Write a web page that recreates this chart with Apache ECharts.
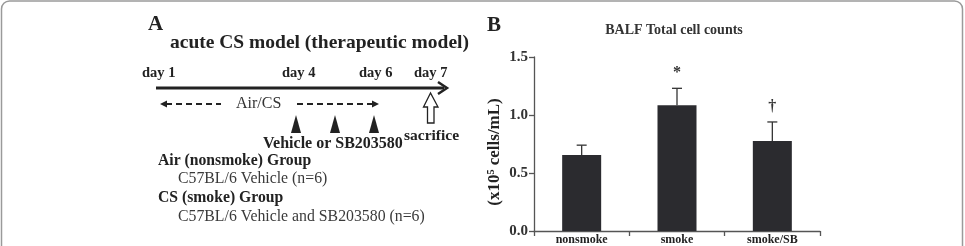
<!DOCTYPE html>
<html>
<head>
<meta charset="utf-8">
<script src="https://cdn.jsdelivr.net/npm/echarts@6/dist/echarts.min.js"></script>
<style>html,body{margin:0;padding:0;background:#fff;}#c{width:965px;height:246px;}</style>
</head>
<body>
<div id="c"></div>
<script>
var categories = ['nonsmoke', 'smoke', 'smoke/SB'];
var means = [0.655, 1.085, 0.775];
var errors = [0.085, 0.145, 0.165];
var annotations = ['', '*', '\u2020'];
var yTicks = [0, 0.5, 1.0, 1.5];
var yAxisTitle = '(x10\u2075 cells/mL)';

var SERIF = '"Liberation Serif","Times New Roman",serif';
var ink = '#222';

var chart = echarts.init(document.getElementById('c'), null, {renderer: 'canvas'});

function txt(x, y, s, size, bold, opts) {
  opts = opts || {};
  var o = {
    type: 'text', x: x, y: y, silent: true,
    style: {
      text: s, fill: opts.fill || ink,
      font: (bold ? 'bold ' : '') + size + 'px ' + SERIF,
      textAlign: opts.align || 'left', textVerticalAlign: 'middle'
    }
  };
  if (opts.rotation) o.rotation = opts.rotation;
  return o;
}
function line(x1, y1, x2, y2, w, dash) {
  return {type: 'line', silent: true, shape: {x1: x1, y1: y1, x2: x2, y2: y2},
    style: {stroke: ink, lineWidth: w, lineDash: dash || null}};
}
function poly(pts, fill, stroke) {
  return {type: 'polygon', silent: true, shape: {points: pts},
    style: {fill: fill, stroke: stroke || null, lineWidth: stroke ? 1.3 : 0}};
}

var graphics = [
  {type: 'rect', silent: true, shape: {x: 1.5, y: 1, width: 961, height: 300, r: 8},
   style: {fill: 'none', stroke: '#9a9a9a', lineWidth: 1.5}},
  txt(148, 25, 'A', 21, true),
  txt(170, 43, 'acute CS model (therapeutic model)', 19.5, true),
  txt(142, 73, 'day 1', 14.5, true),
  txt(282, 73, 'day 4', 14.5, true),
  txt(359, 73, 'day 6', 14.5, true),
  txt(414, 73, 'day 7', 14.5, true),
  line(156, 88, 444, 88, 3),
  {type: 'polyline', silent: true, shape: {points: [[438, 82], [447, 88], [438, 94]]},
   style: {stroke: ink, lineWidth: 2.5, fill: null}},
  // left dashed arrow
  line(166, 104, 221, 104, 2, [6, 4]),
  poly([[160, 104], [167, 100.5], [167, 107.5]], ink),
  txt(236, 104, 'Air/CS', 16, false, {fill: '#333'}),
  // right dashed arrow
  line(297, 104, 373, 104, 2, [6, 4]),
  poly([[379, 104], [372, 100.5], [372, 107.5]], ink),
  // triangles
  poly([[296, 115], [291, 133], [301, 133]], ink),
  poly([[335, 115], [330, 133], [340, 133]], ink),
  poly([[374, 115], [369, 133], [379, 133]], ink),
  // hollow arrow
  poly([[430.5, 93], [423.5, 107], [427.5, 107], [427.5, 123], [434, 123], [434, 107], [438, 107]], '#fff', ink),
  txt(263, 144, 'Vehicle or SB203580', 16, true),
  txt(404, 136, 'sacrifice', 15.5, true),
  txt(158, 161, 'Air (nonsmoke) Group', 15.7, true),
  txt(178, 179, 'C57BL/6 Vehicle (n=6)', 15.8, false, {fill: '#3a3a3a'}),
  txt(158, 198, 'CS (smoke) Group', 15.7, true),
  txt(178, 217, 'C57BL/6 Vehicle and SB203580 (n=6)', 15.8, false, {fill: '#3a3a3a'}),
  txt(487, 26, 'B', 21, true),
  txt(674, 30, 'BALF Total cell counts', 14, true, {align: 'center', fill: '#333'}),
  txt(495, 152, yAxisTitle, 17, true, {align: 'center', rotation: Math.PI / 2})
];

var errData = categories.map(function (c, i) { return [i, means[i], errors[i]]; });

chart.setOption({
  animation: false,
  backgroundColor: '#fff',
  graphic: graphics,
  grid: {left: 534, right: 145, top: 57, bottom: 15, containLabel: false},
  xAxis: {
    type: 'category', data: categories, boundaryGap: true,
    axisLine: {show: true, lineStyle: {color: '#555', width: 1.3}},
    axisTick: {show: true, alignWithLabel: false, length: 5, lineStyle: {color: '#555', width: 1.3}},
    axisLabel: {color: ink, fontFamily: SERIF, fontWeight: 'bold', fontSize: 12, margin: 3},
    splitLine: {show: false}
  },
  yAxis: {
    type: 'value', min: yTicks[0], max: yTicks[yTicks.length - 1], interval: 0.5,
    axisLine: {show: true, lineStyle: {color: '#555', width: 1.3}},
    axisTick: {show: true, inside: false, length: 5, lineStyle: {color: '#555', width: 1.3}},
    axisLabel: {color: '#333', fontFamily: SERIF, fontWeight: 'bold', fontSize: 15, margin: 6,
      formatter: function (v) { return v.toFixed(1); }},
    splitLine: {show: false}
  },
  series: [
    {type: 'bar', data: means, barWidth: 39, itemStyle: {color: '#2b2b2f'}, z: 2},
    {type: 'custom', data: errData, z: 3,
     renderItem: function (params, api) {
       var i = api.value(0), m = api.value(1), e = api.value(2);
       var p0 = api.coord([i, m]);
       var p1 = api.coord([i, m + e]);
       var a = annotations[i];
       var children = [
         {type: 'line', shape: {x1: p0[0], y1: p0[1], x2: p1[0], y2: p1[1]}, style: {stroke: '#333', lineWidth: 1.3}},
         {type: 'line', shape: {x1: p1[0] - 5, y1: p1[1], x2: p1[0] + 5, y2: p1[1]}, style: {stroke: '#333', lineWidth: 1.3}}
       ];
       if (a) {
         children.push({type: 'text', x: p1[0], y: p1[1] - 15,
           style: {text: a, fill: '#333', font: 'bold 16px ' + SERIF, textAlign: 'center', textVerticalAlign: 'middle'}});
       }
       return {type: 'group', children: children};
     }}
  ]
});
</script>
</body>
</html>
